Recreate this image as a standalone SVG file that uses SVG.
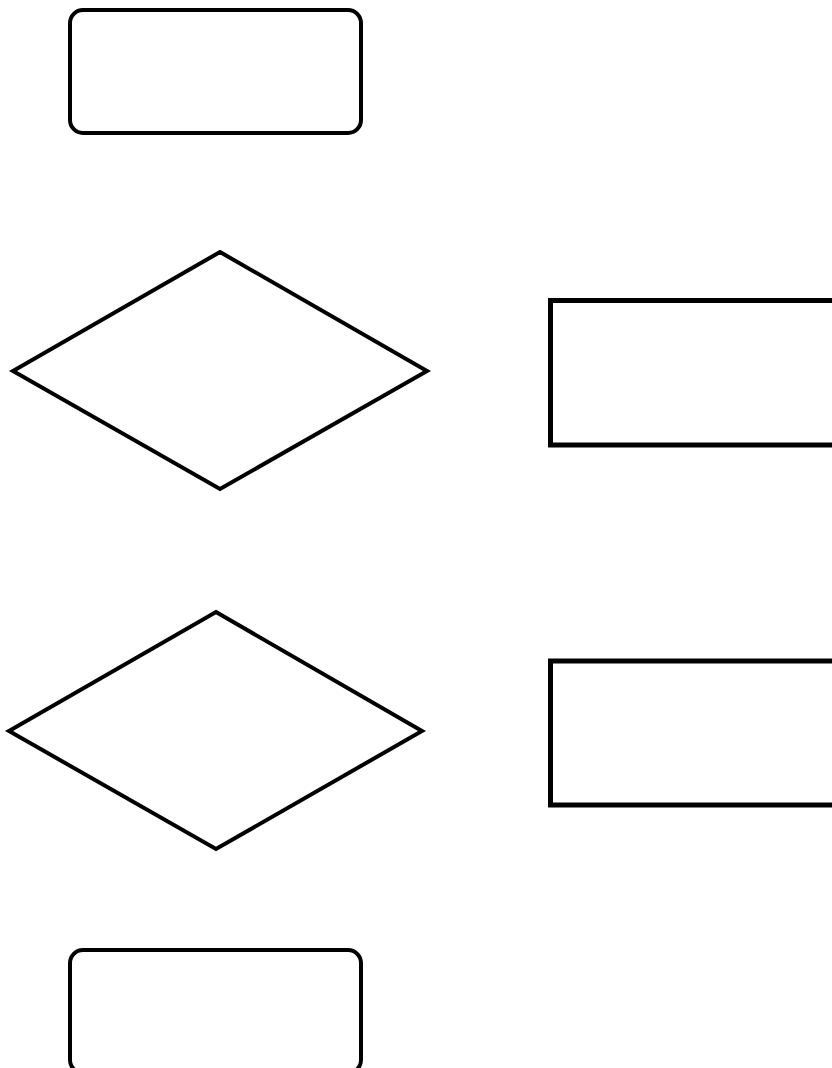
<svg xmlns="http://www.w3.org/2000/svg" width="832" height="1068" viewBox="0 0 832 1068">
<style>
.n{fill:#fff;stroke:#000;stroke-width:4;stroke-linejoin:miter}
.r{stroke-width:5}
</style>
<rect width="832" height="1068" fill="#fff"/>
<g id="start"><rect class="n" x="70" y="10" width="291" height="123" rx="13"/></g>
<g id="decision1"><polygon class="n" points="220,252 427,371 220,489 13,371"/></g>
<g id="process1"><rect class="n r" x="550.5" y="300.5" width="300" height="144.5"/></g>
<g id="decision2"><polygon class="n" points="216,612 422,731 216,849 9,731"/></g>
<g id="process2"><rect class="n r" x="550.5" y="661" width="300" height="144"/></g>
<g id="end"><rect class="n" x="70" y="950" width="291" height="123" rx="13"/></g>
<g id="connectors"></g>
</svg>
